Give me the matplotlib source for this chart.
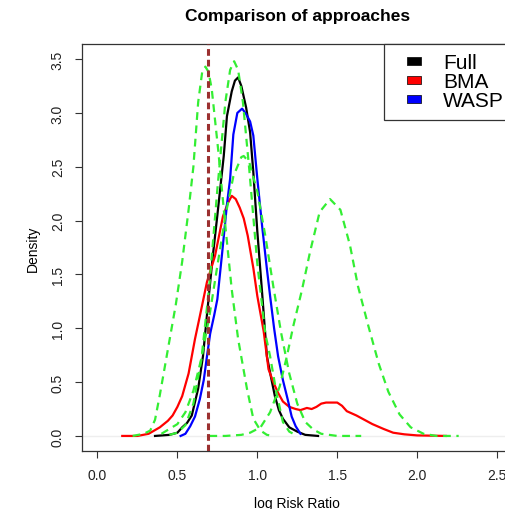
import matplotlib
matplotlib.use("Agg")
import matplotlib.pyplot as plt
from matplotlib.lines import Line2D

plt.rcParams['font.family'] = ['Liberation Sans', 'DejaVu Sans']

# full posterior
full_x = [0.36, 0.45, 0.50, 0.53, 0.56, 0.59, 0.63, 0.66, 0.69, 0.72, 0.75, 0.79, 0.81, 0.84, 0.86, 0.88,
          0.90, 0.93, 0.955, 0.975, 1.0, 1.03, 1.06, 1.085, 1.11, 1.135, 1.16, 1.2, 1.25, 1.3, 1.38]
full_y = [0.0, 0.01, 0.03, 0.08, 0.12, 0.19, 0.44, 0.74, 1.2, 1.65, 2.05, 2.6, 2.97, 3.2, 3.3, 3.33,
          3.25, 3.05, 2.82, 2.45, 1.9, 1.33, 0.74, 0.55, 0.37, 0.24, 0.16, 0.08, 0.04, 0.01, 0.0]

# BMA
bma_x = [0.155, 0.25, 0.32, 0.39, 0.44, 0.47, 0.50, 0.53, 0.57, 0.61, 0.64, 0.685, 0.735, 0.785, 0.815,
         0.84, 0.865, 0.89, 0.915, 0.94, 0.975, 1.0, 1.04, 1.07, 1.1, 1.13, 1.16, 1.2, 1.24, 1.27, 1.29,
         1.31, 1.34, 1.37, 1.4, 1.43, 1.46, 1.5, 1.53, 1.56, 1.59, 1.62, 1.67, 1.72, 1.79, 1.85, 1.92,
         2.0, 2.18]
bma_y = [0.0, 0.0, 0.02, 0.08, 0.14, 0.19, 0.27, 0.37, 0.58, 0.9, 1.11, 1.43, 1.67, 2.04, 2.16,
         2.23, 2.2, 2.12, 2.02, 1.86, 1.56, 1.3, 0.97, 0.62, 0.5, 0.4, 0.32, 0.27, 0.25, 0.24, 0.25,
         0.26, 0.25, 0.27, 0.3, 0.31, 0.31, 0.31, 0.28, 0.23, 0.21, 0.19, 0.15, 0.11, 0.065, 0.03, 0.015,
         0.005, 0.0]

# WASP
wasp_x = [0.52, 0.55, 0.58, 0.61, 0.64, 0.665, 0.685, 0.705, 0.73, 0.75, 0.78, 0.81, 0.83, 0.85, 0.875,
          0.905, 0.93, 0.955, 0.975, 1.0, 1.03, 1.06, 1.08, 1.105, 1.13, 1.16, 1.19, 1.215, 1.24, 1.27]
wasp_y = [0.0, 0.02, 0.09, 0.18, 0.34, 0.52, 0.74, 0.95, 1.12, 1.27, 1.7, 2.15, 2.39, 2.8, 3.0,
          3.04, 2.99, 2.92, 2.79, 2.39, 1.95, 1.55, 1.3, 1.0, 0.74, 0.52, 0.34, 0.18, 0.09, 0.02]

# subset posteriors
sub1_x = [0.22, 0.29, 0.33, 0.36, 0.39, 0.44, 0.49, 0.53, 0.57, 0.60, 0.63, 0.655, 0.675, 0.695,
          0.715, 0.755, 0.80, 0.84, 0.88, 0.935, 0.975, 1.02, 1.06, 1.10]
sub1_y = [0.0, 0.02, 0.05, 0.15, 0.38, 0.8, 1.22, 1.62, 2.1, 2.5, 3.1, 3.38, 3.43, 3.38,
          3.22, 2.66, 1.95, 1.36, 0.9, 0.44, 0.16, 0.05, 0.01, 0.0]

sub2_x = [0.45, 0.5, 0.55, 0.6, 0.65, 0.7, 0.75, 0.8, 0.83, 0.855, 0.88, 0.91, 0.95, 1.0, 1.05,
          1.08, 1.12, 1.16, 1.2, 1.25]
sub2_y = [0.01, 0.03, 0.1, 0.3, 0.71, 1.4, 2.29, 3.1, 3.4, 3.48, 3.4, 3.1, 2.47, 1.6, 0.95,
          0.74, 0.4, 0.13, 0.04, 0.0]

sub3_x = [0.40, 0.5, 0.55, 0.6, 0.65, 0.7, 0.75, 0.8, 0.85, 0.9, 0.915, 0.95, 1.0, 1.05, 1.1,
          1.15, 1.2, 1.25, 1.3, 1.35, 1.4, 1.5, 1.65]
sub3_y = [0.02, 0.11, 0.22, 0.42, 0.72, 1.11, 1.58, 2.04, 2.41, 2.59, 2.6, 2.54, 2.27, 1.86, 1.39,
          0.95, 0.58, 0.3, 0.13, 0.06, 0.02, 0.0, 0.0]

sub4_x = [0.70, 0.8, 0.9, 0.955, 1.02, 1.08, 1.14, 1.185, 1.225, 1.28, 1.33, 1.39, 1.455, 1.52,
          1.58, 1.63, 1.695, 1.76, 1.82, 1.89, 1.96, 2.04, 2.12, 2.26]
sub4_y = [0.0, 0.0, 0.01, 0.03, 0.08, 0.22, 0.46, 0.74, 1.02, 1.36, 1.71, 2.08, 2.2, 2.1,
          1.77, 1.39, 1.02, 0.67, 0.41, 0.2, 0.08, 0.02, 0.0, 0.0]

true_value = 0.693
xticks = [0.0, 0.5, 1.0, 1.5, 2.0, 2.5]
yticks = [0.0, 0.5, 1.0, 1.5, 2.0, 2.5, 3.0, 3.5]

fig = plt.figure(figsize=(5.05, 5.1), dpi=100)
ax = fig.add_axes([0.1614, 0.1137, 0.8545, 0.798])

ax.axhline(0, color='#eeeeee', lw=1, zorder=1)
ax.plot(full_x, full_y, color='black', lw=1.6, zorder=3)
ax.plot(bma_x, bma_y, color='#ff0000', lw=1.6, zorder=3)
ax.plot(wasp_x, wasp_y, color='#0000ff', lw=1.6, zorder=3)
for sx, sy in [(sub1_x, sub1_y), (sub2_x, sub2_y), (sub3_x, sub3_y), (sub4_x, sub4_y)]:
    ax.plot(sx, sy, color='#33ee33', lw=1.6, dashes=(3.5, 2.5), zorder=4)
ax.axvline(true_value, color='#9b3030', lw=2.2, dashes=(2.2, 1.3), zorder=5)

ax.set_xlim(-0.1, 2.6)
ax.set_ylim(-0.14, 3.64)
ax.set_xticks(xticks)
ax.set_yticks(yticks)
ax.set_xticklabels(['%.1f' % t for t in xticks])
ax.set_yticklabels(['%.1f' % t for t in yticks], rotation=90, va='center')
ax.tick_params(direction='out', length=5, width=0.8, labelsize=10, color='#333333', labelcolor='#222222')
ax.tick_params(axis='x', pad=7)
ax.tick_params(axis='y', pad=7)
for s in ax.spines.values():
    s.set_linewidth(0.9)
    s.set_color('#333333')

ax.set_title('Comparison of approaches', fontsize=12.5, fontweight='bold', pad=17)
ax.set_xlabel('log Risk Ratio', fontsize=10, labelpad=10)
ax.set_ylabel('Density', fontsize=10, labelpad=8)

box = [(-1, -0.55), (1, -0.55), (1, 0.55), (-1, 0.55), (-1, -0.55)]
handles = [Line2D([], [], ls='none', marker=box, ms=9.5, mfc=c, mec='black', mew=0.5)
           for c in ['black', '#ff0000', '#0000ff']]
leg = ax.legend(handles, ['Full', 'BMA', 'WASP'], loc='upper right', borderaxespad=0,
                fontsize=15, fancybox=False, framealpha=1, edgecolor='#333333',
                handlelength=1.9, handletextpad=0.45, labelspacing=0.0, borderpad=0.45)
leg.get_frame().set_linewidth(0.9)

plt.savefig('out.png', dpi=100)
